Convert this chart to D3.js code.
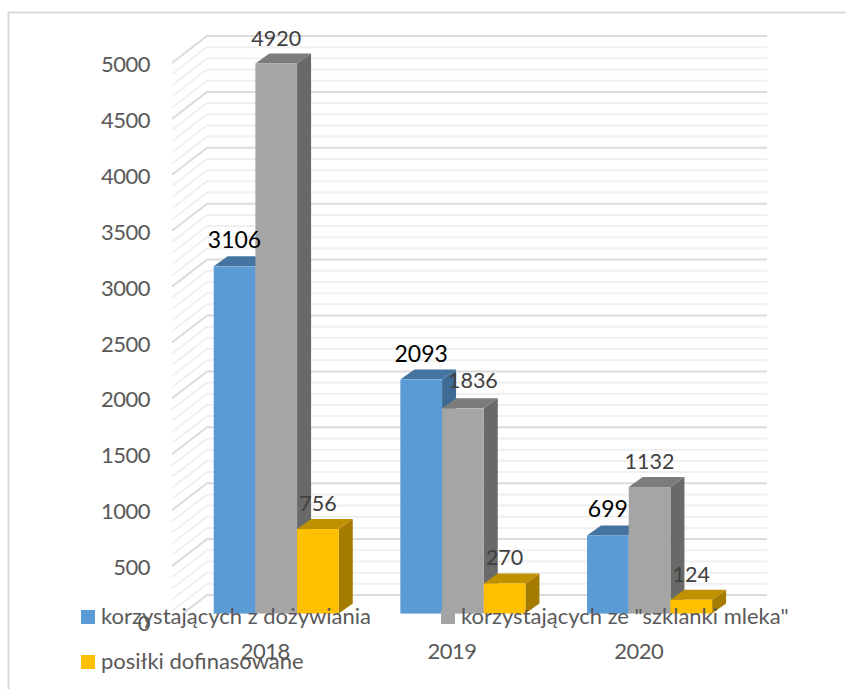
<!DOCTYPE html>
<html><head><meta charset="utf-8">
<script src="https://cdn.jsdelivr.net/npm/d3@7"></script>
<style>html,body{margin:0;padding:0;background:#fff}svg{display:block}text{font-family:Lato,"Open Sans",sans-serif}</style>
</head><body><div id="c"></div>
<script>
const years = ["2018","2019","2020"];
const seriesNames = ["korzystających z dożywiania","korzystających ze \"szklanki mleka\"","posiłki dofinasowane"];
const dozywianie = [3106,2093,699];
const szklanka = [4920,1836,1132];
const posilki = [756,270,124];
const seriesValues = [dozywianie,szklanka,posilki];
const colors = ["#5B9BD5","#A5A5A5","#FFC000"];
const topColors = ["#44749F","#7C7C7C","#BF9000"];
const sideColors = ["#3E6B94","#696969","#A67C00"];
const labelColors = ["#000000","#404040","#404040"];
const labelSizes = [23,21.5,21.5];
const majorTicks = d3.range(0,5001,500);
const minorTicks = d3.range(0,5001,100);

const W=846,H=689;
const svg=d3.select("#c").append("svg").attr("width",W).attr("height",H);
svg.append("rect").attr("width",W).attr("height",H).attr("fill","#fff");
svg.append("path").attr("d","M8.5,689V12.5H846").attr("fill","none").attr("stroke","#d9d9d9").attr("stroke-width",2);

const wallY=d3.scaleLinear().domain([0,5000]).range([595,36]);
const wallLeft=207,wallRight=767,sideDx=35,sideDy=27;
const frontY=d3.scaleLinear().domain([0,5000]).range([595+sideDy,36+sideDy]);
const barY=d3.scaleLinear().domain([0,5000]).range([613.6,54.6]);
const bandFront=d3.scaleBand().domain(years).range([wallLeft-sideDx,wallRight-sideDx]);
const bandBars=d3.scaleBand().domain(years).range([182.9,742.9]).paddingInner(0.33).paddingOuter(0.165);
const barX=d3.scaleBand().domain(d3.range(3)).range([0,bandBars.bandwidth()]);
const dx=14,dy=10;

svg.append("defs").append("clipPath").attr("id","cl").append("rect").attr("x",0).attr("y",0).attr("width",W).attr("height",613.6);
const grid=svg.append("g").attr("clip-path","url(#cl)").attr("fill","none");
grid.selectAll("path").data(minorTicks).join("path")
  .attr("d",v=>`M${wallLeft-sideDx},${frontY(v)}L${wallLeft},${wallY(v)}H${wallRight}`)
  .attr("stroke",v=>v%500===0?"#dcdcdc":"#f0f0f0")
  .attr("stroke-width",2);

const bars=svg.append("g");
years.forEach((yr,i)=>{
  seriesValues.forEach((vals,s)=>{
    const x0=bandBars(yr)+barX(s),w=barX.bandwidth(),t=barY(vals[i]),b=barY(0);
    const g=bars.append("g");
    g.append("path").attr("fill",sideColors[s]).attr("d",`M${x0+w},${t}l${dx},${-dy}V${b-dy}l${-dx},${dy}Z`);
    g.append("path").attr("fill",topColors[s]).attr("d",`M${x0},${t}l${dx},${-dy}h${w}l${-dx},${dy}Z`);
    g.append("rect").attr("x",x0).attr("y",t).attr("width",w).attr("height",b-t).attr("fill",colors[s]);
  });
});

const yAxis=d3.axisLeft(frontY).tickValues(majorTicks).tickSize(0).tickPadding(22).tickFormat(d3.format("d"));
const ya=svg.append("g").attr("transform",`translate(${wallLeft-sideDx},1.5)`).call(yAxis);
ya.select(".domain").remove();
ya.selectAll("text").attr("font-size",22).attr("fill","#595959").style("letter-spacing","-0.5px");

const xAxis=d3.axisBottom(bandFront).tickSize(0).tickPadding(0);
const xa=svg.append("g").attr("transform","translate(0,643.5)").call(xAxis);
xa.select(".domain").remove();
xa.selectAll("text").attr("font-size",22).attr("fill","#595959").style("letter-spacing","-0.5px");

const labels=svg.append("g").attr("text-anchor","middle");
years.forEach((yr,i)=>{
  seriesValues.forEach((vals,s)=>{
    // the 2019 middle label sits off its bar in the reference
    const nudge=(i===1&&s===1)?[10,-2]:[0,0];
    labels.append("text").attr("x",bandBars(yr)+barX(s)+barX.bandwidth()/2+nudge[0]).attr("y",barY(vals[i])-18+nudge[1])
      .attr("font-size",labelSizes[s]).attr("fill",labelColors[s]).text(vals[i]);
  });
});

const legendPos=[[81,610],[441,610],[81,655]];
const leg=svg.append("g");
seriesNames.forEach((n,s)=>{
  const [x,y]=legendPos[s];
  leg.append("rect").attr("x",x).attr("y",y).attr("width",14).attr("height",14).attr("fill",colors[s]);
  leg.append("text").attr("x",x+20).attr("y",y+14).attr("font-size",22).attr("fill","#595959").text(n);
});
</script></body></html>
